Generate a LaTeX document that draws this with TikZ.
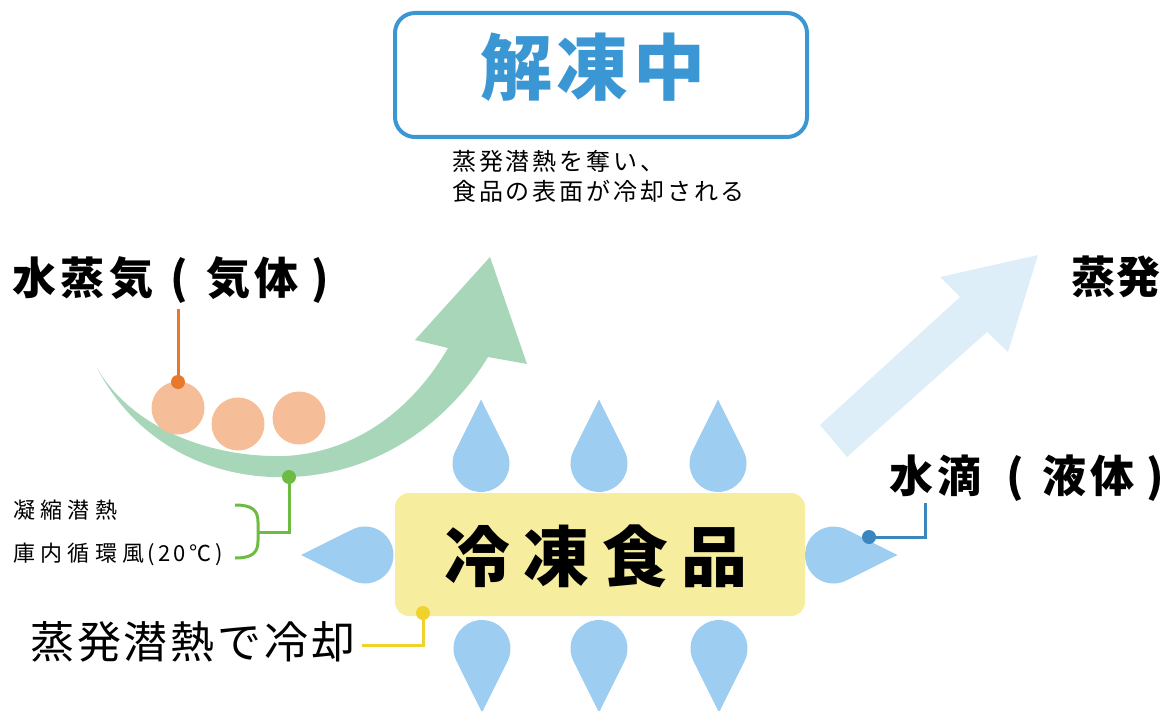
\documentclass[tikz,border=0pt]{standalone}
\usepackage{fontspec}
\setmainfont{Noto Sans CJK JP}
\definecolor{titleblue}{HTML}{3B97D3}
\definecolor{flowgreen}{HTML}{A8D6B8}
\definecolor{vapordot}{HTML}{E8782C}
\definecolor{vapor}{HTML}{F5BD98}
\definecolor{leadgreen}{HTML}{6EBB44}
\definecolor{foodyellow}{HTML}{F6EE9E}
\definecolor{leadyellow}{HTML}{F0D22C}
\definecolor{dropblue}{HTML}{9DCDF0}
\definecolor{leadblue}{HTML}{3B86BE}
\definecolor{steamblue}{HTML}{DDEEF9}
\begin{document}
\begin{tikzpicture}[x=1pt,y=-1pt,
  waterdrop/.pic={\fill[dropblue] (64pt,0pt) -- (63.6:28.5pt) arc[start angle=63.6,end angle=296.4,radius=28.5pt] -- cycle;},
  bigbold/.style={font=\bfseries\fontsize{44}{44}\selectfont\addfontfeature{LetterSpace=10}, inner sep=0pt},
  smalltext/.style={font=\fontsize{22}{22}\selectfont\addfontfeature{LetterSpace=24}, inner sep=0pt, anchor=west},
  dotnode/.style={circle, inner sep=0pt, minimum size=14pt},
  lead/.style={line width=3pt},
  vaporball/.style={circle, fill=vapor, inner sep=0pt, minimum size=53pt}
]
\useasboundingbox (0,0) rectangle (1167,711);

% title panel
\node[draw=titleblue, line width=4pt, rounded corners=20pt, minimum width=412pt, minimum height=124pt, inner sep=0pt] (titlebox) at (601,75) {};
\node[text=titleblue, inner sep=0pt, font=\bfseries\fontsize{72}{72}\selectfont\addfontfeature{LetterSpace=6}] (title) at (593,67) {解凍中};
\node[anchor=west, align=left, inner sep=0pt, font=\fontsize{24}{30}\selectfont\addfontfeature{LetterSpace=12}] (note) at (452,176) {蒸発潜熱を奪い、\\食品の表面が冷却される};

% evaporation arrow
\fill[steamblue] (820,425) -- (960,297) -- (940,277) -- (1038,255) -- (1008,352) -- (987,332) -- (847,457) -- cycle;
\node[bigbold, anchor=west, font=\bfseries\fontsize{44}{44}\selectfont\addfontfeature{LetterSpace=2}] (evap) at (1071,277) {蒸発};

% circulating air arrow
\fill[flowgreen] (97,368) .. controls (140,450) and (220,480) .. (290,477)
  .. controls (380,474) and (450,420) .. (488,357) -- (527,364) -- (490,257) -- (415,340) -- (448,348)
  .. controls (415,405) and (360,452) .. (285,456)
  .. controls (205,458) and (130,425) .. (97,368) -- cycle;

% water vapour
\node[vaporball] (v1) at (178,408) {};
\node[vaporball] (v2) at (238,424) {};
\node[vaporball] (v3) at (299,418) {};
\node[bigbold, anchor=west] (vapor) at (12,280) {水蒸気\hspace{18pt}(\hspace{18pt}気体\hspace{13pt})};
\node[dotnode, fill=vapordot] (vdot) at (178,382) {};
\coordinate (vtop) at (178,309);
\draw[vapordot, lead] (vtop) -- (vdot.center);

% condensation / air labels
\node[dotnode, fill=leadgreen] (gdot) at (289,477) {};
\coordinate (gbend) at (289,532);
\coordinate (gjoin) at (258,532);
\draw[leadgreen, lead] (gdot.center) -- (gbend) -- (gjoin);
\draw[leadgreen, lead] (235,505) .. controls (252,505) and (258,510) .. (258,522) -- (258,541) .. controls (258,553) and (252,558) .. (235,558);
\node[smalltext] (cond) at (13,510) {凝縮潜熱};
\node[smalltext] (air) at (13,554) {庫内循環風\hspace{3pt}\addfontfeature{LetterSpace=16}(20℃)};

% water drops
\pic[rotate=90] at (481,463.5) {waterdrop};
\pic[rotate=90] at (599,463.5) {waterdrop};
\pic[rotate=90] at (718,463.5) {waterdrop};
\pic[rotate=-90] at (482,648.5) {waterdrop};
\pic[rotate=-90] at (599,648.5) {waterdrop};
\pic[rotate=-90] at (719,648.5) {waterdrop};
\pic[rotate=180] at (365,555) {waterdrop};
\pic at (833.5,555) {waterdrop};

% frozen food
\node[fill=foodyellow, rounded corners=14pt, minimum width=410pt, minimum height=123pt, inner sep=0pt] (food) at (600,554.5) {};
\node[inner sep=0pt, font=\bfseries\fontsize{66}{66}\selectfont\addfontfeature{LetterSpace=20}] (foodlabel) at (596,556) {冷凍食品};

% evaporative cooling label
\node[dotnode, fill=leadyellow] (ydot) at (423,613) {};
\coordinate (ybend) at (423,645);
\coordinate (yend) at (362,645);
\draw[leadyellow, lead] (ydot.center) -- (ybend) -- (yend);
\node[anchor=west, inner sep=0pt, font=\fontsize{44}{44}\selectfont\addfontfeature{LetterSpace=6.5}] (cool) at (30,642) {蒸発潜熱で冷却};

% water drop label
\node[dotnode, fill=leadblue] (bdot) at (869,537) {};
\coordinate (bbend) at (925,537);
\coordinate (btop) at (925,503);
\draw[leadblue, lead] (bdot.center) -- (bbend) -- (btop);
\node[bigbold, anchor=west] (drop) at (889,478) {水滴\hspace{25pt}(\hspace{18pt}液体\hspace{12pt}\addfontfeature{LetterSpace=0})};
\end{tikzpicture}
\end{document}
